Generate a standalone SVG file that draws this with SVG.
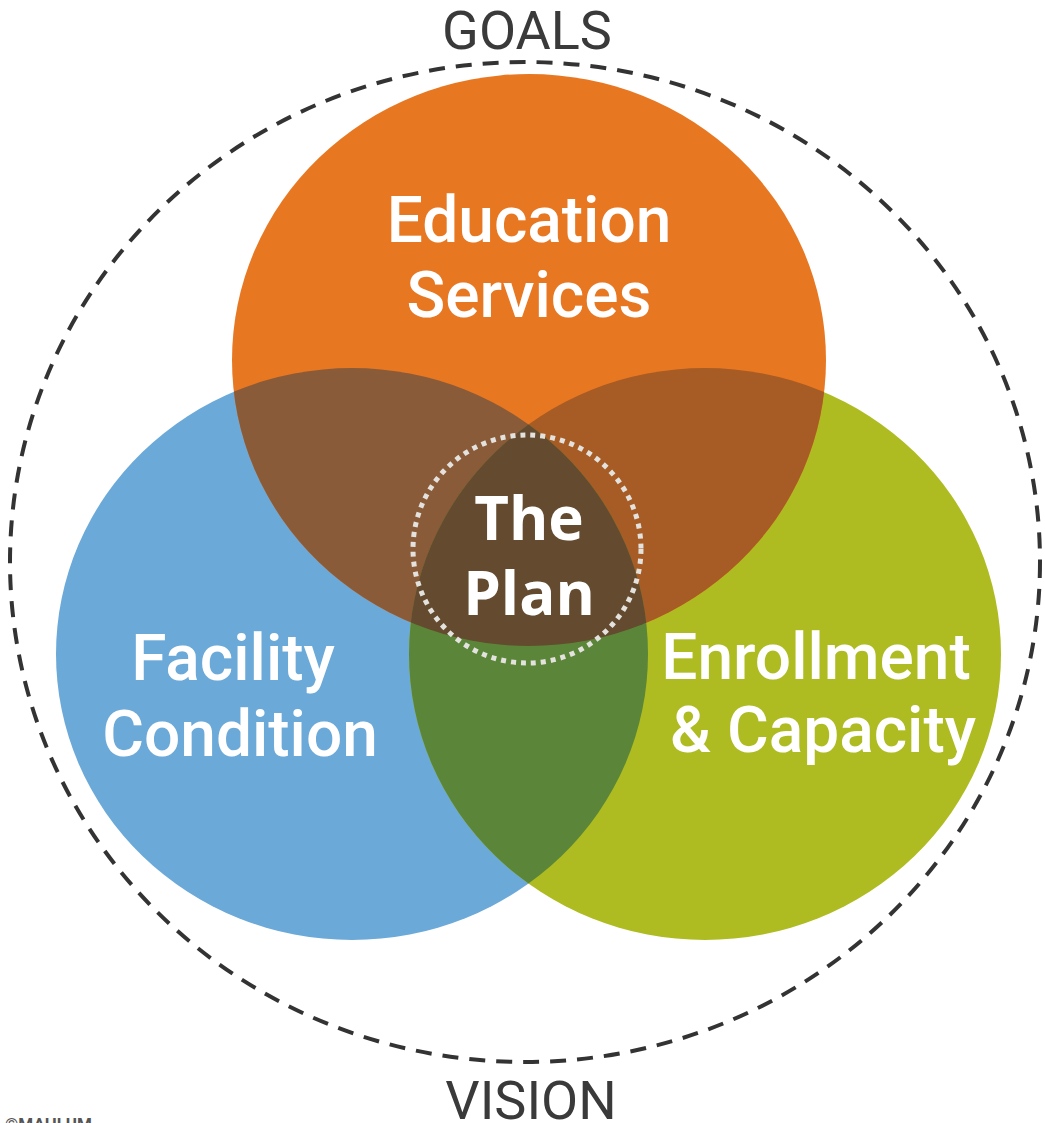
<svg xmlns="http://www.w3.org/2000/svg" width="1045" height="1123" viewBox="0 0 1045 1123">
  <style>
    .lbl { font-family: Roboto, "Liberation Sans", sans-serif; font-weight: 500; font-size: 64px; fill: #ffffff; text-anchor: middle; }
    .core { font-family: "Open Sans", "Noto Sans", sans-serif; font-weight: 700; font-size: 60px; fill: #ffffff; text-anchor: middle; }
    .frame { font-family: Roboto, "Liberation Sans", sans-serif; font-weight: 400; font-size: 54px; fill: #3a3a3a; text-anchor: middle; }
  </style>
  <defs>
    <clipPath id="clipOrange"><ellipse cx="529" cy="360" rx="297" ry="286"/></clipPath>
    <clipPath id="clipBlue"><ellipse cx="352" cy="654" rx="296" ry="286"/></clipPath>
  </defs>
  <rect width="1045" height="1123" fill="#ffffff"/>

  <!-- outer dashed boundary -->
  <g id="boundary">
    <ellipse cx="525" cy="562" rx="515" ry="500" fill="none" stroke="#333333" stroke-width="4" stroke-dasharray="16 11"/>
  </g>

  <!-- three overlapping circles -->
  <g id="facility">
    <ellipse cx="352" cy="654" rx="296" ry="286" fill="#6ba9d9"/>
  </g>
  <g id="enrollment">
    <ellipse cx="705" cy="654" rx="296" ry="286" fill="#aebc21"/>
  </g>
  <g id="education">
    <ellipse cx="529" cy="360" rx="297" ry="286" fill="#e87722"/>
  </g>

  <!-- overlap regions -->
  <g id="overlaps">
    <g clip-path="url(#clipOrange)">
      <ellipse cx="352" cy="654" rx="296" ry="286" fill="#8a5b39"/>
      <ellipse cx="705" cy="654" rx="296" ry="286" fill="#a65c24"/>
    </g>
    <g clip-path="url(#clipBlue)">
      <ellipse cx="705" cy="654" rx="296" ry="286" fill="#5b8639"/>
      <g clip-path="url(#clipOrange)">
        <ellipse cx="705" cy="654" rx="296" ry="286" fill="#644a2e"/>
      </g>
    </g>
  </g>

  <!-- plan core -->
  <g id="plan">
    <circle cx="527" cy="549" r="114" fill="none" stroke="#e4e2de" stroke-width="5" stroke-dasharray="5 5"/>
    <text class="core" x="529" y="540">The</text>
    <text class="core" x="529" y="615">Plan</text>
  </g>

  <g id="education-label">
    <text class="lbl" x="529" y="242">Education</text>
    <text class="lbl" x="529" y="317">Services</text>
  </g>
  <g id="facility-label">
    <text class="lbl" x="233" y="680">Facility</text>
    <text class="lbl" x="240" y="756">Condition</text>
  </g>
  <g id="enrollment-label">
    <text class="lbl" x="816" y="679">Enrollment</text>
    <text class="lbl" x="823" y="752">&amp; Capacity</text>
  </g>

  <g id="frame-labels">
    <text class="frame" x="527" y="49">GOALS</text>
    <text class="frame" x="531" y="1119">VISION</text>
    <text x="5" y="1130" font-family="Roboto, 'Liberation Sans', sans-serif" font-weight="700" font-size="17" fill="#555555">©MAHLUM</text>
  </g>
</svg>
